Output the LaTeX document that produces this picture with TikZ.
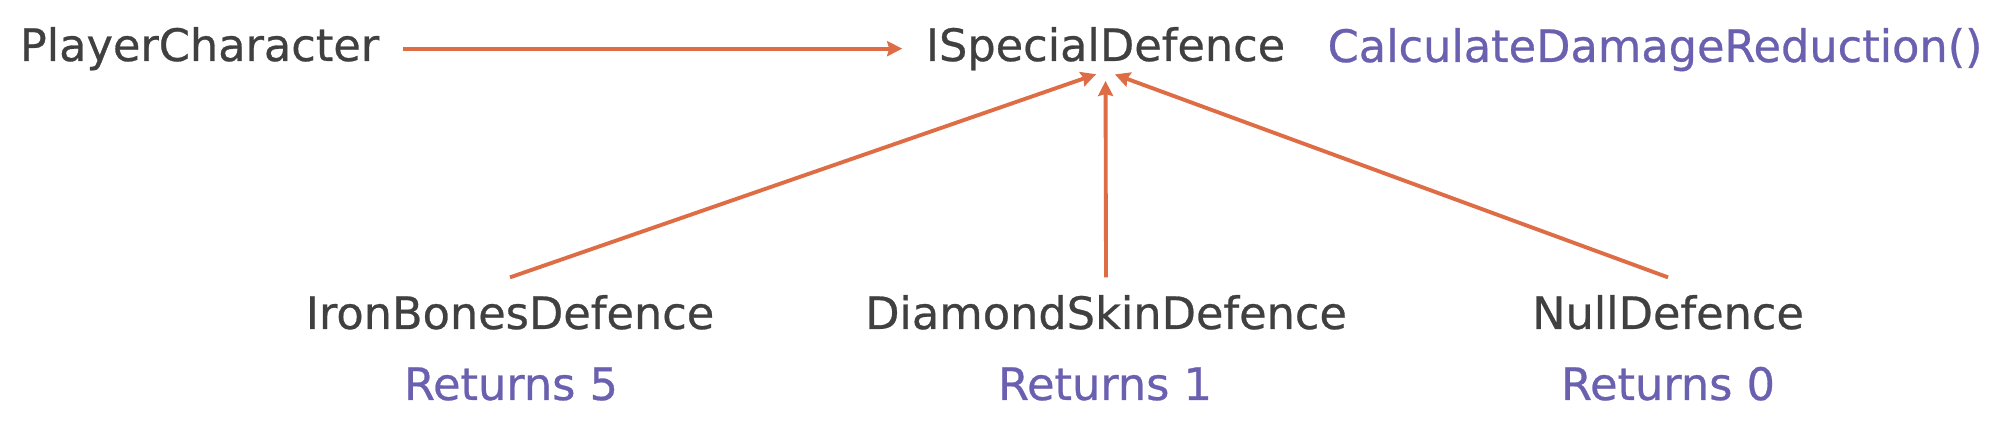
\documentclass[tikz,border=0pt]{standalone}
\usepackage{fontspec}
\setmainfont{DejaVu Sans}[FakeBold=0.6]
\usetikzlibrary{arrows.meta}
\definecolor{edgeorange}{RGB}{222,108,68}
\definecolor{textgrey}{RGB}{64,64,64}
\definecolor{retpurple}{RGB}{106,96,176}
\begin{document}
\begin{tikzpicture}[>={Stealth[length=0.15cm, width=0.15cm, inset=0.02cm]},
    cls/.style={text=textgrey, inner sep=0pt, anchor=base, font=\fontsize{12.7pt}{15pt}\selectfont},
    ret/.style={text=retpurple, inner sep=0pt, anchor=base, font=\fontsize{12.7pt}{15pt}\selectfont},
    conn/.style={->, draw=edgeorange, line width=1.1pt}]
    \useasboundingbox[fill=white] (0,0) rectangle (20.1,4.4);

    % Nodes for the top row
    \node[cls] (pc) at (1.995, 3.79) {PlayerCharacter};
    \node[cls] (isd) at (11.055, 3.79) {ISpecialDefence};
    \node[ret] (calc) at (16.55, 3.78) {CalculateDamageReduction()};

    % Nodes for the implementations
    \node[cls] (ibd) at (5.10, 1.11) {IronBonesDefence};
    \node[cls] (dsd) at (11.06, 1.11) {DiamondSkinDefence};
    \node[cls] (nd) at (16.68, 1.11) {NullDefence};
    \node[ret] (r5) at (5.11, 0.40) {Returns 5};
    \node[ret] (r1) at (11.05, 0.40) {Returns 1};
    \node[ret] (r0) at (16.68, 0.40) {Returns 0};

    % Edges
    \draw[conn, shorten <=0.23cm, shorten >=0.23cm] (pc.east) -- (isd.west |- pc.east);
    \draw[conn, shorten >=0.1cm] ([yshift=0.17cm]ibd.north) -- (isd.south);
    \draw[conn, shorten >=0.1cm] ([yshift=0.17cm]dsd.north) -- (isd.south);
    \draw[conn, shorten >=0.1cm] ([yshift=0.17cm]nd.north) -- (isd.south);
\end{tikzpicture}
\end{document}
